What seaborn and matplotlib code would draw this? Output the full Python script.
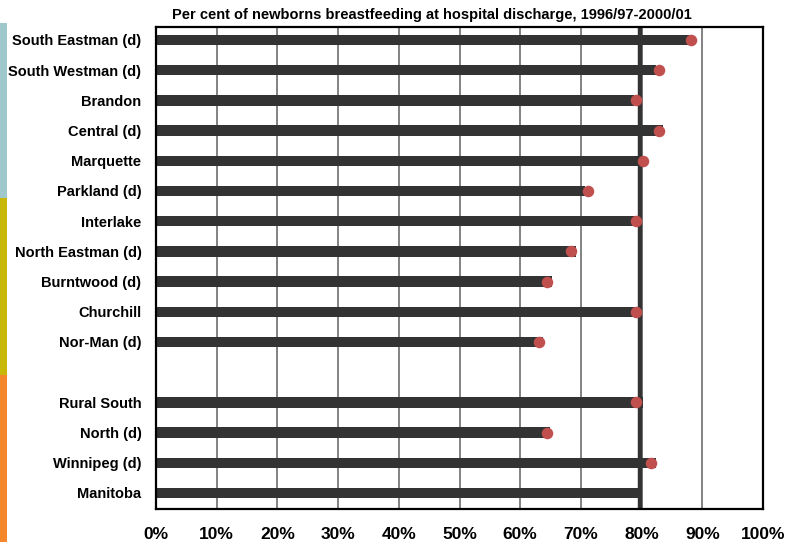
import matplotlib
matplotlib.use("Agg")
import matplotlib.pyplot as plt
import numpy as np
import pandas as pd
import seaborn as sns
from matplotlib.patches import Rectangle

sns.set_style("white")
plt.rcParams["font.family"] = ["Liberation Sans", "DejaVu Sans"]
plt.rcParams["font.weight"] = "bold"
plt.rcParams["text.color"] = "black"
plt.rcParams["xtick.color"] = "black"
plt.rcParams["ytick.color"] = "black"

# ── Data ───────────────────────────────────────────────────────────────────────
REGIONS = [
    "South Eastman (d)", "South Westman (d)", "Brandon", "Central (d)",
    "Marquette", "Parkland (d)", "Interlake", "North Eastman (d)",
    "Burntwood (d)", "Churchill", "Nor-Man (d)",
    "Rural South", "North (d)", "Winnipeg (d)", "Manitoba",
]
BAR_VALUES = [88.5, 82.4, 78.7, 83.5, 80.3, 70.7, 79.1, 69.2,
              65.2, 79.2, 63.8, 80.3, 64.9, 82.3, 79.7]
DOT_VALUES = [88.1, 82.9, 79.0, 82.9, 80.2, 71.1, 79.0, 68.3,
              64.4, 79.0, 63.1, 79.0, 64.4, 81.5, np.nan]
MANITOBA_AVG = 79.7
X_TICKS = list(range(0, 101, 10))
X_TICK_LABELS = [f"{t}%" for t in X_TICKS]
TITLE = "Per cent of newborns breastfeeding at hospital discharge, 1996/97-2000/01"

# blank slot between the region rows and the aggregate rows
ORDER = REGIONS[:11] + [""] + REGIONS[11:]

BAR_COLOR = "#333333"
DOT_COLOR = "#c0504d"

df = pd.DataFrame({"region": REGIONS, "bar": BAR_VALUES, "dot": DOT_VALUES})

# ── Plot ───────────────────────────────────────────────────────────────────────
fig = plt.figure(figsize=(7.86, 5.42), dpi=100)
ax = fig.add_axes([156 / 786, 1 - 509 / 542, (763 - 156) / 786, (509 - 27) / 542])

for t in X_TICKS[1:-1]:
    ax.axvline(t, color="#606060", lw=1.1, zorder=0)
ax.axvline(MANITOBA_AVG, color=BAR_COLOR, lw=3.2, zorder=1)

sns.barplot(data=df, x="bar", y="region", order=ORDER, orient="h",
            color=BAR_COLOR, saturation=1, width=0.34, linewidth=0,
            ax=ax, zorder=2, errorbar=None)
sns.stripplot(data=df.dropna(subset=["dot"]), x="dot", y="region", order=ORDER,
              orient="h", jitter=False, color=DOT_COLOR, size=8.3,
              linewidth=0, ax=ax, zorder=3)

ax.set_xlim(0, 100)
ax.set_ylim(len(ORDER) - 0.47, -0.43)
ax.set_xticks(X_TICKS)
ax.set_xticklabels(X_TICK_LABELS, fontsize=12.5, fontweight="bold")
ax.tick_params(axis="x", length=0, pad=13)
ax.tick_params(axis="y", length=0, pad=10.5, labelsize=10.5)
for lbl in ax.get_yticklabels():
    lbl.set_fontweight("bold")
ax.set_xlabel("")
ax.set_ylabel("")
for spine in ax.spines.values():
    spine.set_visible(True)
    spine.set_color("black")
    spine.set_linewidth(1.6)

fig.text(432 / 786, 1 - 15 / 542, TITLE, fontsize=10.5, fontweight="bold",
         ha="center", va="center")

# coloured group stripes down the left edge
stripes = [(23, 198, "#9ec8cc"), (198, 375, "#c8b80a"), (375, 542, "#f4862c")]
for top, bottom, col in stripes:
    fig.add_artist(Rectangle((0, 1 - bottom / 542), 7 / 786, (bottom - top) / 542,
                             transform=fig.transFigure, color=col, lw=0))

fig.savefig("out.png", dpi=100)
plt.close(fig)
